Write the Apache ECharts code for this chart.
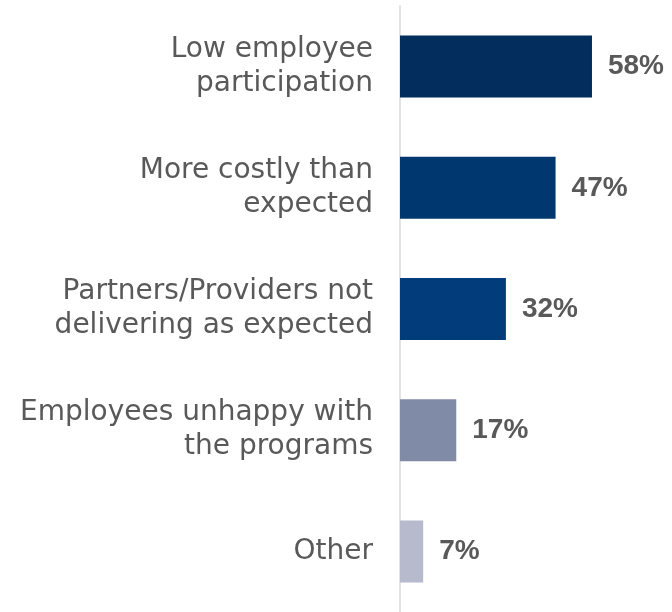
<!DOCTYPE html>
<html>
<head>
<meta charset="utf-8">
<script src="https://cdn.jsdelivr.net/npm/echarts@6/dist/echarts.min.js"></script>
<style>
  html, body { margin: 0; padding: 0; background: #ffffff; }
  #chart { width: 672px; height: 612px; }
</style>
</head>
<body>
<div id="chart"></div>
<script>
// Challenges reported, top to bottom
var categories = [
  'Low employee\nparticipation',
  'More costly than\nexpected',
  'Partners/Providers not\ndelivering as expected',
  'Employees unhappy with\nthe programs',
  'Other'
];
// Share of respondents (%)
var values = [58, 47, 32, 17, 7];
// One fill per bar
var barColors = ['#022d5d', '#01376f', '#033c7b', '#7f8ba7', '#b6bacc'];

var chart = echarts.init(document.getElementById('chart'), null, { renderer: 'canvas' });

chart.setOption({
  animation: false,
  backgroundColor: '#ffffff',
  grid: { left: 400, top: 6, width: 198.6, height: 611, containLabel: false },
  xAxis: {
    type: 'value',
    min: 0,
    max: 60,
    show: false
  },
  yAxis: {
    type: 'category',
    inverse: true,
    data: categories,
    axisLine: { show: true, lineStyle: { color: '#e3e3e3', width: 2 } },
    axisTick: { show: false },
    axisLabel: {
      margin: 27,
      align: 'right',
      color: '#595959',
      fontFamily: 'DejaVu Sans',
      fontSize: 28,
      lineHeight: 34
    }
  },
  series: [{
    type: 'bar',
    barWidth: 62,
    data: values.map(function (v, i) {
      return { value: v, itemStyle: { color: barColors[i] } };
    }),
    label: {
      show: true,
      position: 'right',
      distance: 16,
      formatter: '{c}%',
      color: '#595959',
      fontFamily: 'Liberation Sans',
      fontWeight: 'bold',
      fontSize: 28
    }
  }]
});
</script>
</body>
</html>
